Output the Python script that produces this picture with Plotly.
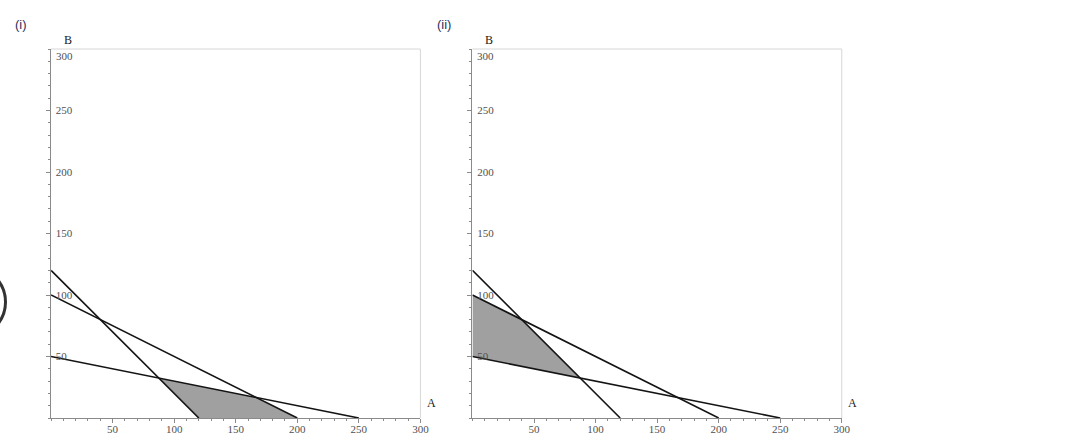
import plotly.graph_objects as go

# ---- data ----
constraint_A_intercepts = [120, 200, 250]   # where each constraint line meets the A axis
constraint_B_intercepts = [120, 100, 50]    # where each constraint line meets the B axis
region_i_A = [87.5, 166.7, 200, 120]
region_i_B = [32.5, 16.7, 0, 0]
region_ii_A = [0, 40, 87.5, 0]
region_ii_B = [100, 80, 32.5, 50]
tick_values = [50, 100, 150, 200, 250, 300]
tick_labels = ["50", "100", "150", "200", "250", "300"]
panel_titles = ["(i)", "(ii)"]

W, H = 1068, 448
W_EFF = 1058  # horizontal extent the page is actually photographed at

def px_x(p):
    return p / W_EFF

def px_y(p):
    return 1 - p / H

fig = go.Figure()

panels = [
    dict(xa="x", ya="y", xd=[px_x(51), px_x(420)], rA=region_i_A, rB=region_i_B),
    dict(xa="x2", ya="y2", xd=[px_x(472), px_x(841)], rA=region_ii_A, rB=region_ii_B),
]
ydom = [px_y(418), px_y(49)]

for p in panels:
    fig.add_trace(go.Scatter(
        x=p["rA"] + [p["rA"][0]], y=p["rB"] + [p["rB"][0]],
        fill="toself", fillcolor="#a0a0a0", mode="lines",
        line=dict(width=0, color="rgba(0,0,0,0)"),
        xaxis=p["xa"], yaxis=p["ya"], showlegend=False, hoverinfo="skip"))
    for a_int, b_int in zip(constraint_A_intercepts, constraint_B_intercepts):
        fig.add_trace(go.Scatter(
            x=[0, a_int], y=[b_int, 0], mode="lines",
            line=dict(color="#141414", width=1.6),
            xaxis=p["xa"], yaxis=p["ya"], showlegend=False, hoverinfo="skip"))

tickfont = dict(family="Liberation Serif, Times New Roman, serif", size=11, color="#505050")

def xaxis_cfg(domain, anchor):
    return dict(
        domain=domain, anchor=anchor, range=[0, 300], showgrid=False, zeroline=False,
        showline=True, linecolor="#8a8a8a", linewidth=1,
        tickmode="array", tickvals=tick_values, ticktext=tick_labels,
        ticks="outside", ticklen=4, tickcolor="#8a8a8a", tickwidth=1,
        ticklabelstandoff=-3,
        tickfont=tickfont,
        minor=dict(dtick=10, tick0=0, ticks="outside", ticklen=2, tickcolor="#8a8a8a", showgrid=False),
        fixedrange=True,
    )

def yaxis_cfg(anchor):
    return dict(
        domain=ydom, anchor=anchor, range=[0, 300], showgrid=False, zeroline=False,
        showline=True, linecolor="#8a8a8a", linewidth=1,
        tickmode="array", tickvals=tick_values[:-1], ticktext=tick_labels[:-1],
        ticks="outside", ticklen=4, tickcolor="#8a8a8a", tickwidth=1,
        ticklabelposition="inside", ticklabeloverflow="allow", ticklabelstandoff=4,
        tickfont=tickfont,
        minor=dict(dtick=10, tick0=0, ticks="outside", ticklen=2, tickcolor="#8a8a8a", showgrid=False),
        fixedrange=True,
    )

fig.update_layout(
    width=W, height=H, autosize=False,
    margin=dict(l=0, r=0, t=0, b=0),
    paper_bgcolor="white", plot_bgcolor="white",
    xaxis=xaxis_cfg(panels[0]["xd"], "y"),
    yaxis=yaxis_cfg("x"),
    xaxis2=xaxis_cfg(panels[1]["xd"], "y2"),
    yaxis2=yaxis_cfg("x2"),
)

shapes = []
annotations = []
labfont = dict(family="Liberation Serif, Times New Roman, serif", size=12, color="#1a1a1a")
for i, p in enumerate(panels):
    suffix = "" if i == 0 else "2"
    shapes.append(dict(type="path", xref=f"x{suffix} domain", yref=f"y{suffix} domain",
                       path="M 0 1 L 1 1 L 1 0", line=dict(color="#d6d6d6", width=1), layer="below"))
    annotations.append(dict(text=tick_labels[-1], xref=f"x{suffix}", yref=f"y{suffix}",
                            x=0, y=tick_values[-1], xanchor="left", yanchor="top",
                            xshift=3, yshift=1, showarrow=False, font=tickfont))
    annotations.append(dict(text="B", xref=f"x{suffix} domain", yref=f"y{suffix} domain",
                            x=0, y=1, xshift=17, yshift=9, showarrow=False, font=labfont,
                            xanchor="center", yanchor="middle"))
    annotations.append(dict(text="A", xref=f"x{suffix} domain", yref=f"y{suffix} domain",
                            x=1, y=0, xshift=11, yshift=15, showarrow=False, font=labfont,
                            xanchor="center", yanchor="middle"))

annotations.append(dict(text=panel_titles[0], xref="paper", yref="paper", x=px_x(21), y=px_y(24),
                        showarrow=False, xanchor="center", yanchor="middle",
                        font=dict(family="Arial, Liberation Sans, sans-serif", size=13, color="#2a3360")))
annotations.append(dict(text=panel_titles[1], xref="paper", yref="paper", x=px_x(444), y=px_y(24),
                        showarrow=False, xanchor="center", yanchor="middle",
                        font=dict(family="Arial, Liberation Sans, sans-serif", size=13, color="#2a3360")))

shapes.append(dict(type="circle", xref="paper", yref="paper",
                   x0=px_x(-64), x1=px_x(5.5), y0=px_y(337), y1=px_y(267),
                   line=dict(color="#333333", width=3)))

fig.update_layout(shapes=shapes, annotations=annotations)

fig.write_html("out.html",
               config={"responsive": False, "displayModeBar": False},
               post_script="document.body.style.margin='0';document.body.style.overflow='hidden';")
